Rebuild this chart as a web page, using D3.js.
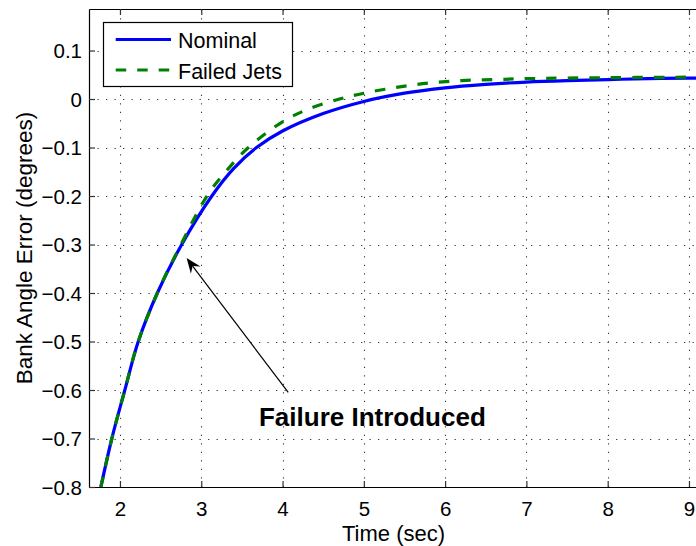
<!DOCTYPE html>
<html>
<head>
<meta charset="utf-8">
<script src="https://cdn.jsdelivr.net/npm/d3@7/dist/d3.min.js"></script>
<style>
  html, body { margin: 0; padding: 0; background: #fff; }
  svg { display: block; font-family: "Liberation Sans", Arial, Helvetica, sans-serif; }
</style>
</head>
<body>
<svg id="chart" width="696" height="546"></svg>
<script>
// Bank angle error response, nominal vs. failed jets
const nominalTime = [1.765, 1.90, 2.06, 2.225, 2.46, 2.76, 3.13, 3.4, 3.68, 4.0, 4.5, 5.0, 5.5, 6.0, 6.5, 7.0, 7.5, 8.0, 8.5, 9.0, 9.3];
const nominalError = [-0.80, -0.70, -0.60, -0.50, -0.40, -0.30, -0.20, -0.143, -0.10, -0.066, -0.030, -0.005, 0.012, 0.023, 0.030, 0.035, 0.038, 0.040, 0.042, 0.043, 0.043];

const failedTime = [1.765, 1.90, 2.06, 2.225, 2.46, 2.72, 3.07, 3.3, 3.58, 4.0, 4.3, 4.7, 5.0, 5.4, 5.8, 6.2, 6.6, 7.0, 8.0, 9.0, 9.3];
const failedError = [-0.80, -0.70, -0.60, -0.50, -0.40, -0.31, -0.20, -0.15, -0.10, -0.047, -0.022, 0.0, 0.012, 0.024, 0.033, 0.038, 0.040, 0.042, 0.044, 0.045, 0.045];

const xTicks = [2, 3, 4, 5, 6, 7, 8, 9];
const yTicks = [-0.8, -0.7, -0.6, -0.5, -0.4, -0.3, -0.2, -0.1, 0, 0.1];

const seriesNames = ["Nominal", "Failed Jets"];
const annotationText = "Failure Introduced";
const arrowTip = [2.82, -0.328];
const arrowTail = [4.07, -0.605];
const annotationAt = [3.71, -0.675];

const svg = d3.select("#chart");
const plot = { left: 89, right: 698, top: 9, bottom: 487 };

const x = d3.scaleLinear().domain([1.619, 9.111]).range([plot.left, plot.right]);
const y = d3.scaleLinear().domain([-0.8, 0.1856]).range([plot.bottom, plot.top]);

svg.append("defs").append("clipPath").attr("id", "plotClip")
  .append("rect")
  .attr("x", plot.left).attr("y", plot.top)
  .attr("width", plot.right - plot.left).attr("height", plot.bottom - plot.top);

// dotted grid
const grid = svg.append("g").attr("stroke", "#3a3a3a").attr("stroke-width", 1.1)
  .attr("stroke-dasharray", "1.3,7.2").attr("fill", "none");
grid.selectAll("line.vx").data(xTicks).join("line")
  .attr("x1", d => Math.round(x(d)) + 0.5).attr("x2", d => Math.round(x(d)) + 0.5)
  .attr("y1", plot.bottom).attr("y2", plot.top);
grid.selectAll("line.hy").data(yTicks).join("line")
  .attr("y1", d => Math.round(y(d)) + 0.5).attr("y2", d => Math.round(y(d)) + 0.5)
  .attr("x1", plot.left).attr("x2", plot.right);

// axes with inward ticks
const tickLen = 6;
const xAxisBottom = d3.axisBottom(x).tickValues(xTicks).tickSizeInner(-tickLen).tickSizeOuter(0)
  .tickPadding(14).tickFormat(d3.format("d"));
const gx = svg.append("g").attr("transform", `translate(0,${plot.bottom})`).call(xAxisBottom);

const xAxisTop = d3.axisTop(x).tickValues(xTicks).tickSizeInner(-tickLen).tickSizeOuter(0).tickFormat("");
const gxt = svg.append("g").attr("transform", `translate(0,${plot.top})`).call(xAxisTop);

const minusFmt = d => (d === 0 ? "0" : d3.format(".1f")(d).replace("-", "\u2212"));
const yAxisLeft = d3.axisLeft(y).tickValues(yTicks).tickSizeInner(-tickLen).tickSizeOuter(0)
  .tickPadding(7).tickFormat(minusFmt);
const gy = svg.append("g").attr("transform", `translate(${plot.left},0)`).call(yAxisLeft);

[gx, gxt, gy].forEach(g => {
  g.select(".domain").attr("stroke", "#000").attr("stroke-width", 1.2);
  g.selectAll(".tick line").attr("stroke", "#333").attr("stroke-width", 1.2);
  g.selectAll(".tick text").attr("fill", "#000").attr("font-size", 20.5)
    .attr("font-family", "Liberation Sans, Arial, sans-serif");
});
gy.selectAll(".tick text").attr("dy", "0.36em");

// data lines (smooth spline through the sampled response)
const line = d3.line().x(d => x(d[0])).y(d => y(d[1])).curve(d3.curveCatmullRom.alpha(0.5));
const nominalPts = d3.zip(nominalTime, nominalError);
const failedPts = d3.zip(failedTime, failedError);
const lines = svg.append("g").attr("clip-path", "url(#plotClip)");
lines.append("path").datum(nominalPts).attr("d", line)
  .attr("fill", "none").attr("stroke", "#0000ff").attr("stroke-width", 3.2);
lines.append("path").datum(failedPts).attr("d", line)
  .attr("fill", "none").attr("stroke", "#008000").attr("stroke-width", 3.2)
  .attr("stroke-dasharray", "10.5,11");

// axis labels
svg.append("text").attr("x", (plot.left + plot.right) / 2).attr("y", 540.5)
  .attr("text-anchor", "middle").attr("font-size", 22).text("Time (sec)");
svg.append("text")
  .attr("transform", `translate(31.5,${(plot.top + plot.bottom) / 2}) rotate(-90)`)
  .attr("text-anchor", "middle").attr("font-size", 22.5).text("Bank Angle Error (degrees)");

// annotation arrow
const [tx, ty] = [x(arrowTip[0]), y(arrowTip[1])];
const [sx, sy] = [x(arrowTail[0]), y(arrowTail[1])];
const ang = Math.atan2(ty - sy, tx - sx);
const headLen = 15, headHalf = 6, notch = 10;
const ux = Math.cos(ang), uy = Math.sin(ang);
const px = -uy, py = ux;
const bx = tx - ux * headLen, by = ty - uy * headLen;
const nx = tx - ux * notch, ny = ty - uy * notch;
svg.append("line").attr("x1", sx).attr("y1", sy).attr("x2", nx).attr("y2", ny)
  .attr("stroke", "#000").attr("stroke-width", 1.2);
svg.append("path")
  .attr("d", `M${tx},${ty}L${bx + px * headHalf},${by + py * headHalf}L${nx},${ny}L${bx - px * headHalf},${by - py * headHalf}Z`)
  .attr("fill", "#000");
svg.append("text").attr("x", x(annotationAt[0])).attr("y", y(annotationAt[1]))
  .attr("font-size", 26).attr("font-weight", "bold").text(annotationText);

// legend
const legend = svg.append("g");
legend.append("rect").attr("x", 103.5).attr("y", 22.5).attr("width", 189).attr("height", 64)
  .attr("fill", "#fff").attr("stroke", "#000").attr("stroke-width", 1.2);
const legendRows = [
  { name: seriesNames[0], color: "#0000ff", dash: null, yPos: 39.5 },
  { name: seriesNames[1], color: "#008000", dash: "10.5,11", yPos: 70 }
];
legendRows.forEach(r => {
  legend.append("line").attr("x1", 115.7).attr("x2", 171).attr("y1", r.yPos).attr("y2", r.yPos)
    .attr("stroke", r.color).attr("stroke-width", 3.2).attr("stroke-dasharray", r.dash);
  legend.append("text").attr("x", 178).attr("y", r.yPos + 8.5)
    .attr("font-size", 21.5).text(r.name);
});
</script>
</body>
</html>
